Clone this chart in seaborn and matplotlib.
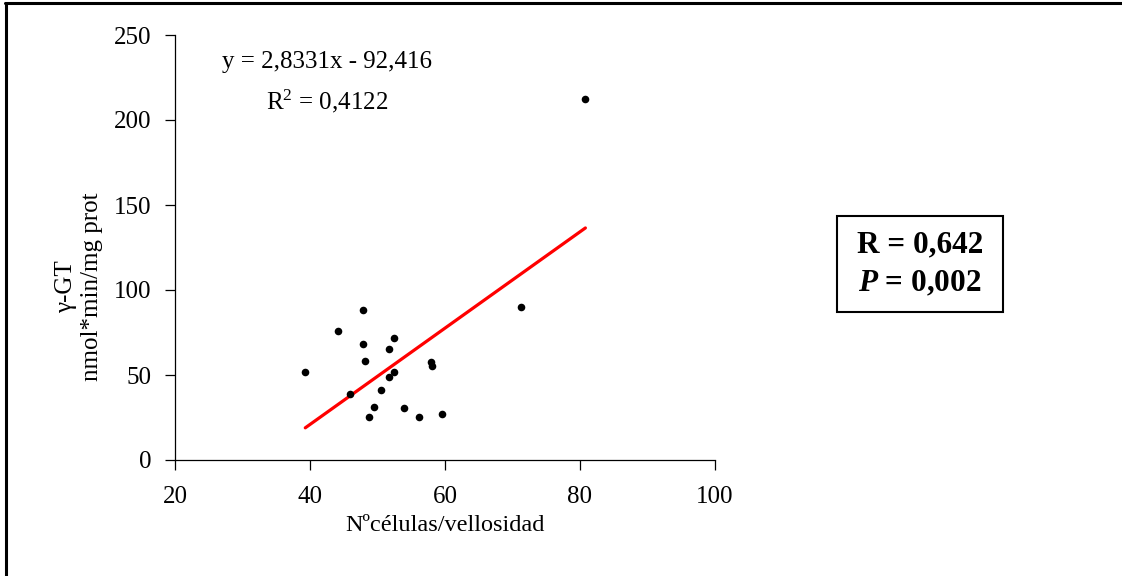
import matplotlib
matplotlib.use("Agg")
import matplotlib.pyplot as plt
import seaborn as sns
import numpy as np
import pandas as pd
from matplotlib.lines import Line2D

# ---- data ----
cells = [39.3, 47.9, 44.2, 47.9, 48.1, 52.5, 51.7, 52.5, 51.7, 57.9,
         58.1, 45.9, 50.5, 49.5, 48.8, 53.9, 56.1, 59.5, 80.8, 71.3]
ggt = [51.6, 88.2, 75.7, 68.1, 58.2, 71.9, 65.1, 51.6, 48.6, 57.6,
       55.5, 39.0, 41.0, 31.4, 25.5, 30.4, 25.5, 27.2, 212.2, 90.2]
slope = 2.8331
intercept = -92.416
x_ticks = [20, 40, 60, 80, 100]
y_ticks = [0, 50, 100, 150, 200, 250]
eq_label = "y = 2,8331x - 92,416"
r2_label = "R$^2$ = 0,4122"
stats_label_r = "R = 0,642"
stats_label_p = "$P$ = 0,002"
x_label = "Nºcélulas/vellosidad"
y_label = "γ-GT\nnmol*min/mg prot"

df = pd.DataFrame({"cells": cells, "ggt": ggt})

sns.set_theme(style="white")
plt.rcParams["font.family"] = ["Liberation Serif", "DejaVu Serif"]
plt.rcParams["mathtext.fontset"] = "custom"
plt.rcParams["mathtext.rm"] = "Liberation Serif"
plt.rcParams["mathtext.it"] = "Liberation Serif:italic:bold"
plt.rcParams["mathtext.bf"] = "Liberation Serif:bold"

W, H = 1122, 576
FS = 18
fig = plt.figure(figsize=(W / 100, H / 100), dpi=100)
ax = fig.add_axes([175 / W, 1 - 460 / H, (715 - 175) / W, (460 - 35) / H])

sns.scatterplot(data=df, x="cells", y="ggt", ax=ax, color="black",
                s=30, edgecolor="black", linewidth=0, zorder=3)

xs = np.array([min(cells), max(cells)])
sns.lineplot(x=xs, y=slope * xs + intercept, ax=ax, color="#ff0000",
             linewidth=2.3, zorder=2)

ax.set_xlim(20, 100)
ax.set_ylim(0, 250)
ax.set_xticks(x_ticks)
ax.set_yticks(y_ticks)
for s in ["top", "right"]:
    ax.spines[s].set_visible(False)
for s in ["left", "bottom"]:
    ax.spines[s].set_color("black")
    ax.spines[s].set_linewidth(0.9)
ax.tick_params(axis="both", which="major", direction="out", length=7,
               width=0.9, color="black", labelsize=FS, labelcolor="black",
               left=True, bottom=True)
ax.tick_params(axis="x", pad=12)
ax.tick_params(axis="y", pad=10)
ax.set_xlabel(x_label, fontsize=17.5, color="black", labelpad=5)
ax.set_ylabel("")

fig.text(79 / W, 1 - 287 / H, y_label, rotation=90, ha="center",
         va="center", fontsize=FS, color="black", multialignment="center",
         linespacing=1.2)

ax.text(327 / W, 1 - 62 / H, eq_label, transform=fig.transFigure,
        ha="center", va="center", fontsize=FS, color="black")
ax.text(327 / W, 1 - 101 / H, r2_label, transform=fig.transFigure,
        ha="center", va="center", fontsize=FS, color="black")

# stats box
fig.patches.append(plt.Rectangle((837 / W, 1 - 312 / H), (1003 - 837) / W,
                                 (312 - 216) / H, transform=fig.transFigure,
                                 fill=False, edgecolor="black", linewidth=1.5))
fig.text(920 / W, 1 - 245 / H, stats_label_r, ha="center", va="center",
         fontsize=22.5, fontweight="bold", color="black")
fig.text(920 / W, 1 - 284 / H, stats_label_p, ha="center",
         va="center", fontsize=22.5, fontweight="bold", color="black")

# outer frame (top and left)
fig.add_artist(Line2D([5 / W, 1], [1 - 2.5 / H, 1 - 2.5 / H],
                      transform=fig.transFigure, color="black", linewidth=2.2))
fig.add_artist(Line2D([5.5 / W, 5.5 / W], [0, 1 - 2.5 / H],
                      transform=fig.transFigure, color="black", linewidth=2.2))

fig.savefig("out.png", dpi=100, facecolor="white")
